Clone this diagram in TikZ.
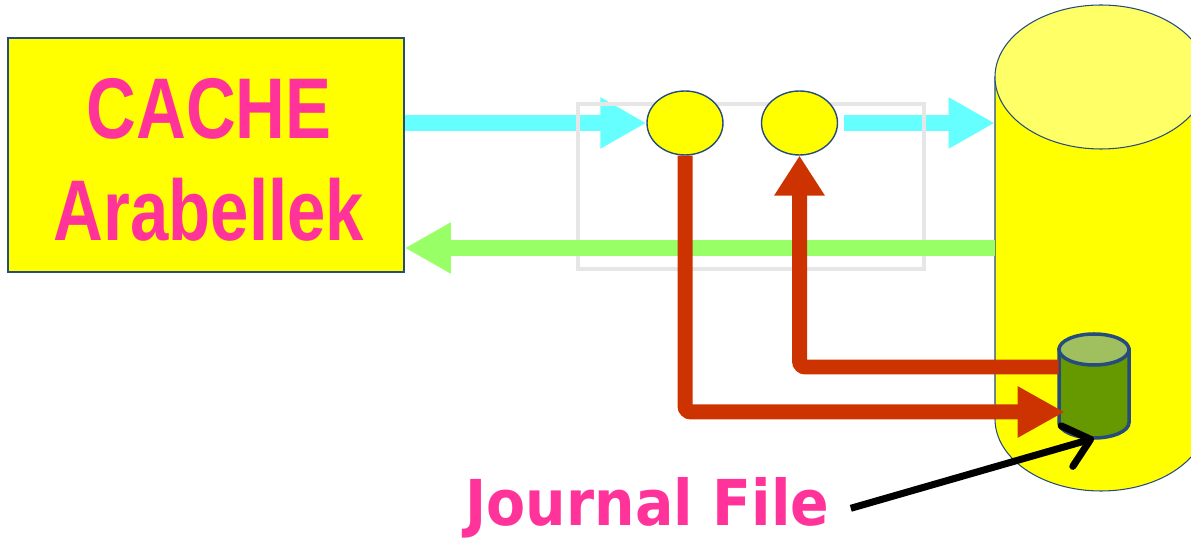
\documentclass[tikz,border=0pt]{standalone}
\usepackage{fontspec}
\usetikzlibrary{arrows.meta,shapes.geometric,backgrounds}
\newfontfamily\cachefont{Liberation Sans}[FakeStretch=0.8]
\newfontfamily\journalfont{DejaVu Sans}[FakeStretch=0.9]
\definecolor{ylw}{RGB}{255,255,0}
\definecolor{pinktxt}{RGB}{255,51,153}
\definecolor{bord}{RGB}{37,76,125}
\definecolor{dbtop}{RGB}{255,255,102}
\definecolor{cyanarr}{RGB}{102,255,255}
\definecolor{greenarr}{RGB}{153,255,102}
\definecolor{redarr}{RGB}{204,51,0}
\definecolor{framegray}{RGB}{230,230,230}
\definecolor{jfbody}{RGB}{102,153,0}
\definecolor{jftop}{RGB}{160,192,96}

\begin{document}
\begin{tikzpicture}[x=0.02cm,y=-0.02cm,
  flow/.style={line width=0.32cm,-{Triangle[length=0.92cm,width=0.96cm]}},
  redline/.style={draw=redarr,line width=0.3cm,rounded corners=0.12cm},
  blob/.style={ellipse,draw=bord,line width=0.8pt,fill=ylw,
    minimum width=1.52cm,minimum height=1.28cm,inner sep=0pt}]
  \useasboundingbox (0,0) rectangle (1191,540);

  % cache box
  \node[fill=ylw,draw=bord,line width=1pt,minimum width=7.92cm,minimum height=4.68cm] (cache) at (206,155) {};
  \node[text=pinktxt,align=center,font=\cachefont\bfseries\fontsize{49}{57.8}\selectfont]
    (cachetxt) at (209,160) {CACHE\\Arabellek};

  % disk
  \node[minimum width=4.24cm,minimum height=9.72cm,inner sep=0pt] (db) at (1101,248) {};
  \filldraw[fill=ylw,draw=bord,line width=0.6pt] (995,77) -- (995,419)
    arc[start angle=180,end angle=0,x radius=106,y radius=72] -- (1207,77) -- cycle;
  \filldraw[fill=dbtop,draw=bord,line width=0.6pt] (1101,77) ellipse[x radius=106,y radius=72];

  % buffers
  \node[blob] (e1) at (685,123) {};
  \node[blob] (e2) at (799.5,123) {};

  % journal file
  \node[minimum width=1.4cm,minimum height=2.08cm,inner sep=0pt] (jf) at (1094,386) {};
  \filldraw[fill=jfbody,draw=bord,line width=2pt] (1059,349.5) -- (1059,422.5)
    arc[start angle=180,end angle=0,x radius=35,y radius=15.5] -- (1129,349.5) -- cycle;
  \filldraw[fill=jftop,draw=bord,line width=2pt] (1094,349.5) ellipse[x radius=35,y radius=15.5];

  \begin{scope}[on background layer]
    \draw[flow,draw=cyanarr] (cache.east |- e1.west) -- (e1.west);
    \draw[flow,draw=cyanarr,shorten <=0.12cm] (e2.east) -- (db.west |- e2.east);
    \draw[draw=framegray,line width=1.9pt] (578,104) rectangle (924,269);
  \end{scope}

  \draw[flow,draw=greenarr] (db.west) -- (cache.east |- db.west);
  \draw[redline,-{Triangle[length=0.94cm,width=0.96cm]}] (e1.south) |- ([xshift=0.12cm,yshift=-0.52cm]jf.west);
  \draw[redline,-{Triangle[length=0.8cm,width=0.96cm]}] ([yshift=0.38cm]jf.west) -| (e2.south);

  \node[font=\journalfont\bfseries\fontsize{36}{42}\selectfont,text=pinktxt,anchor=base,
    inner xsep=12pt,inner ysep=0pt] (jtext) at (647.5,526) {Journal File};
  \draw[line width=4pt,-{Straight Barb[length=14pt,width=24pt,round]}] (jtext.east) -- (jf.south);
\end{tikzpicture}
\end{document}
